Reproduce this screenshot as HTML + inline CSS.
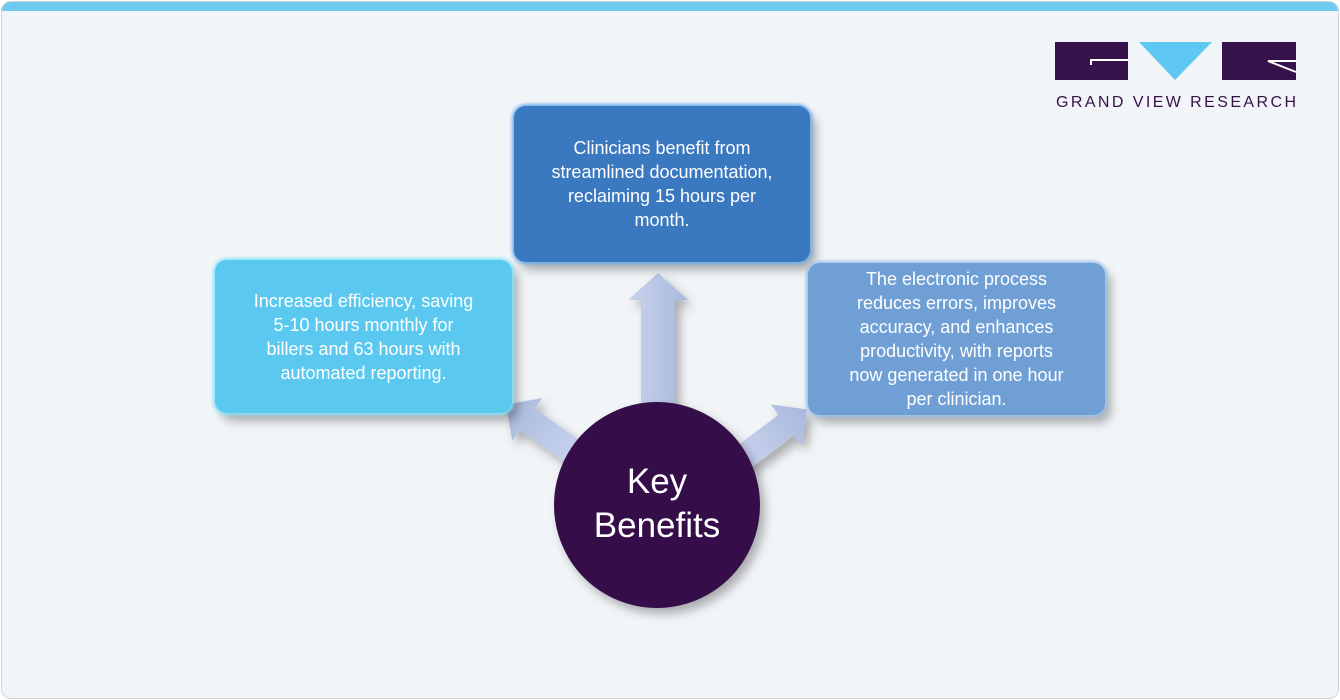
<!DOCTYPE html>
<html><head><style>
body{margin:0;width:1340px;height:700px;background:#fff;overflow:hidden;font-family:"Liberation Sans",sans-serif}
.frame{position:absolute;left:1px;top:1px;width:1336px;height:696px;border:1px solid #cfd4d8;border-radius:10px;background:#f2f5f8;overflow:hidden}
.bar{position:absolute;left:0;top:0;width:100%;height:9px;background:#6ccbef}
.box{position:absolute;color:#fff;font-size:18px;line-height:24px;text-align:center;display:flex;align-items:center;justify-content:center;border-radius:12px;box-shadow:6px 8px 10px rgba(0,0,0,0.3)}
</style></head><body>
<div class="frame"><div class="bar"></div></div>
<svg width="1340" height="700" style="position:absolute;left:0;top:0">
<defs><linearGradient id="ar" x1="0" x2="1"><stop offset="0" stop-color="#c8d4ee"/><stop offset="1" stop-color="#a9b8dc"/></linearGradient>
<filter id="sh"><feDropShadow dx="5" dy="6" stdDeviation="5" flood-opacity="0.3"/></filter></defs>
<g fill="url(#ar)" filter="url(#sh)">
<polygon points="641,410 641,300 628,300 658,273 688,300 675,300 675,410"/>
<g transform="translate(578,455) rotate(-145)"><polygon points="0,-13 62,-13 62,-26 88,0 62,26 62,13 0,13"/></g>
<g transform="translate(740,460) rotate(-37)"><polygon points="0,-13 58,-13 58,-26 84,0 58,26 58,13 0,13"/></g>
</g>
<circle cx="657" cy="505" r="103" fill="#35104a" filter="url(#sh)"/>
<text x="657" y="493" fill="#fff" font-size="35" text-anchor="middle">Key</text>
<text x="657" y="537" fill="#fff" font-size="35" text-anchor="middle">Benefits</text>
<rect x="1055" y="42" width="73" height="38" fill="#35124a"/>
<polyline points="1091,65 1091,60 1128,60" stroke="#fff" stroke-width="2" fill="none"/>
<polygon points="1139,42 1212,42 1175,80" fill="#5ec8f2"/>
<rect x="1222" y="42" width="74" height="38" fill="#35124a"/>
<polyline points="1296,72 1268,61 1296,61" stroke="#fff" stroke-width="2" fill="none"/>
<text x="1176" y="107" fill="#35124a" font-size="16" text-anchor="middle" textLength="240" lengthAdjust="spacing">GRAND VIEW RESEARCH</text>
</svg>
<div class="box" style="left:514px;top:106px;width:296px;height:156px;background:#3a78bf;box-shadow:0 0 3px 2px #6fb0ea,6px 8px 10px rgba(0,0,0,.3)">Clinicians benefit from<br>streamlined documentation,<br>reclaiming 15 hours per<br>month.</div>
<div class="box" style="left:215px;top:260px;width:297px;height:153px;background:#5bc8ef;box-shadow:0 0 3px 2px #8ae4fb,6px 8px 10px rgba(0,0,0,.3)">Increased efficiency, saving<br>5-10 hours monthly for<br>billers and 63 hours with<br>automated reporting.</div>
<div class="box" style="left:808px;top:263px;width:297px;height:152px;background:#6f9fd4;box-shadow:0 0 3px 2px #9cc2ea,6px 8px 10px rgba(0,0,0,.3)">The electronic process<br>reduces errors, improves<br>accuracy, and enhances<br>productivity, with reports<br>now generated in one hour<br>per clinician.</div>
</body></html>
